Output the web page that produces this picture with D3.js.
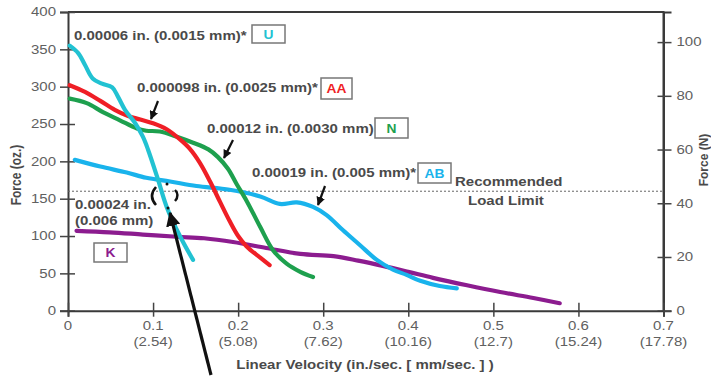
<!DOCTYPE html>
<html>
<head>
<meta charset="utf-8">
<script src="https://cdn.jsdelivr.net/npm/d3@7"></script>
<style>
  html, body { margin: 0; padding: 0; background: #fff; }
  svg { display: block; font-family: "Liberation Sans", Arial, Helvetica, sans-serif; }
</style>
</head>
<body>
<svg id="chart" width="711" height="376"></svg>
<script>
// Force vs. linear velocity for each motor variant: [velocity in/sec, force oz]
const seriesU = [[0.002,355],[0.012,345],[0.02,329],[0.029,311],[0.04,304],[0.052,299],[0.059,286],[0.067,269],[0.079,251],[0.088,233],[0.094,216],[0.106,175],[0.116,139],[0.132,99],[0.147,68]];
const seriesAA = [[0.002,302],[0.02,293],[0.038,281],[0.055,269],[0.07,261],[0.085,256],[0.1,251],[0.116,243],[0.132,229],[0.143,217],[0.155,198],[0.167,173],[0.179,145],[0.19,120],[0.2,100],[0.21,86],[0.226,71],[0.237,61]];
const seriesN = [[0.002,284],[0.022,278],[0.041,266],[0.061,255],[0.081,244],[0.092,241],[0.108,240],[0.128,233],[0.147,225],[0.165,216],[0.176,206],[0.188,190],[0.198,170],[0.21,147],[0.226,112],[0.241,81],[0.257,63],[0.273,52],[0.288,45]];
const seriesAB = [[0.008,202],[0.038,193],[0.069,185],[0.092,178],[0.12,173],[0.151,167],[0.19,162],[0.226,153],[0.249,143],[0.269,145],[0.288,139],[0.304,128],[0.323,108],[0.343,88],[0.363,68],[0.382,55],[0.398,48],[0.414,40],[0.437,33],[0.457,30]];
const seriesK = [[0.01,107],[0.049,105],[0.088,102],[0.128,99],[0.16,97],[0.194,92],[0.233,84],[0.273,76],[0.312,73],[0.341,67],[0.37,60],[0.4,52],[0.429,44],[0.469,34],[0.508,25],[0.547,17],[0.578,10]];

// Axis ticks and labels
const velocityTicks = [0, 0.1, 0.2, 0.3, 0.4, 0.5, 0.6, 0.7];
const velocityLabels = ["0", "0.1", "0.2", "0.3", "0.4", "0.5", "0.6", "0.7"];
const mmLabels = ["", "(2.54)", "(5.08)", "(7.62)", "(10.16)", "(12.7)", "(15.24)", "(17.78)"];
const ozTicks = [0, 50, 100, 150, 200, 250, 300, 350, 400];
const newtonTicks = [0, 20, 40, 60, 80, 100];
const loadLimitOz = 160;
const OZ_TO_N = 0.2780139;

const svg = d3.select("#chart");
const SX = 1.25; // horizontal glyph stretch used by all labels

const x = d3.scaleLinear().domain([0, 0.7]).range([68, 663.5]);
const yL = d3.scaleLinear().domain([0, 400]).range([310.7, 12]);
const yR = d3.scaleLinear().domain([0, 400 * OZ_TO_N]).range([310.7, 12]);

function label(parent, px, py, str, o = {}) {
  const t = parent.append("text")
    .attr("transform", `translate(${px},${py}) scale(${o.sx || SX},1)` + (o.rotate ? ` rotate(${o.rotate})` : ""))
    .attr("text-anchor", o.anchor || "start")
    .attr("font-size", o.size || 12)
    .attr("font-weight", o.weight || "bold")
    .attr("fill", o.fill || "#4a4a4a")
    .text(str);
  return t;
}

// Frame: top and right edges
svg.append("path")
  .attr("d", `M${x(0)},${yL(400)} H${x(0.7)} V${yL(0)}`)
  .attr("fill", "none").attr("stroke", "#3a3a3a").attr("stroke-width", 2);

// Left axis (oz)
const gL = svg.append("g").attr("transform", `translate(${x(0)},0)`)
  .call(d3.axisLeft(yL).tickValues(ozTicks).tickSize(8).tickFormat(""));
gL.select(".domain").attr("stroke", "#3a3a3a").attr("stroke-width", 2);
gL.selectAll(".tick line").attr("x1", 7).attr("stroke", "#444").attr("stroke-width", 1.5);
ozTicks.forEach(v => label(svg, x(0) - 12, yL(v) + 4.3, String(v), { anchor: "end", weight: "normal", fill: "#606060" }));

// Right axis (N)
const gR = svg.append("g").attr("transform", `translate(${x(0.7)},0)`)
  .call(d3.axisRight(yR).tickValues(newtonTicks).tickSize(8).tickFormat(""));
gR.select(".domain").attr("stroke", "#3a3a3a").attr("stroke-width", 2);
gR.selectAll(".tick line").attr("x1", -6).attr("stroke", "#444").attr("stroke-width", 1.5);
newtonTicks.forEach(v => label(svg, x(0.7) + 13, yR(v) + 4.3, String(v), { weight: "normal", fill: "#606060" }));

// Bottom axis (velocity)
const gB = svg.append("g").attr("transform", `translate(0,${yL(0)})`)
  .call(d3.axisBottom(x).tickValues(velocityTicks).tickSize(6).tickFormat(""));
gB.select(".domain").attr("stroke", "#3a3a3a").attr("stroke-width", 2);
gB.selectAll(".tick line").attr("y1", -8).attr("stroke", "#444").attr("stroke-width", 1.5);
velocityTicks.forEach((v, i) => {
  label(svg, x(v), 329.5, velocityLabels[i], { anchor: "middle", weight: "normal", fill: "#606060" });
  if (mmLabels[i]) label(svg, x(v), 346, mmLabels[i], { anchor: "middle", weight: "normal", fill: "#606060" });
});

// Axis titles
label(svg, 365, 369, "Linear Velocity (in./sec. [ mm/sec. ] )", { anchor: "middle" });
label(svg, 21, 175, "Force (oz.)", { anchor: "middle", rotate: -90 });
label(svg, 708, 160, "Force (N)", { anchor: "middle", rotate: -90, sx: 1.1 });

// Recommended load limit
svg.append("line")
  .attr("x1", x(0)).attr("x2", x(0.7))
  .attr("y1", yL(loadLimitOz)).attr("y2", yL(loadLimitOz))
  .attr("stroke", "#666").attr("stroke-width", 1).attr("stroke-dasharray", "2,2");
label(svg, 455, 186, "Recommended");
label(svg, 468, 205, "Load Limit");

// Curves
const line = d3.line().x(d => x(d[0])).y(d => yL(d[1])).curve(d3.curveCatmullRom.alpha(0.5));
const curves = [
  { data: seriesK, color: "#8c1c8f" },
  { data: seriesAB, color: "#19b3ec" },
  { data: seriesN, color: "#1ea04e" },
  { data: seriesAA, color: "#ef1f26" },
  { data: seriesU, color: "#22c2d2" }
];
svg.append("g").selectAll("path").data(curves).join("path")
  .attr("d", d => line(d.data))
  .attr("fill", "none")
  .attr("stroke", d => d.color)
  .attr("stroke-width", 4.2)
  .attr("stroke-linecap", "round")
  .attr("stroke-linejoin", "round");

// Arrowhead marker
const defs = svg.append("defs");
defs.append("marker").attr("id", "head").attr("viewBox", "0 0 10 10")
  .attr("refX", 9).attr("refY", 5).attr("markerWidth", 4).attr("markerHeight", 4)
  .attr("orient", "auto").attr("markerUnits", "strokeWidth")
  .append("path").attr("d", "M0,0 L10,5 L0,10 z").attr("fill", "#111");
defs.append("marker").attr("id", "headBig").attr("viewBox", "0 0 10 10")
  .attr("refX", 9).attr("refY", 5).attr("markerWidth", 4.5).attr("markerHeight", 4.5)
  .attr("orient", "auto").attr("markerUnits", "strokeWidth")
  .append("path").attr("d", "M0,0 L10,5 L0,10 z").attr("fill", "#111");

// Pointer arrows from labels to curves
[[158, 101, 151, 119], [233, 140, 224, 158], [325, 186, 318, 205]].forEach(a => {
  svg.append("line").attr("x1", a[0]).attr("y1", a[1]).attr("x2", a[2]).attr("y2", a[3])
    .attr("stroke", "#111").attr("stroke-width", 2.2).attr("marker-end", "url(#head)");
});
svg.append("line").attr("x1", 211).attr("y1", 375).attr("x2", 170).attr("y2", 213)
  .attr("stroke", "#111").attr("stroke-width", 3.2).attr("marker-end", "url(#headBig)");

// Bracket marks around the 0.00024 in. step point
svg.append("path").attr("d", "M156,187 Q148,196 156,205").attr("fill", "none").attr("stroke", "#111").attr("stroke-width", 2.6);
svg.append("path").attr("d", "M175,190 Q180,195 175,201").attr("fill", "none").attr("stroke", "#111").attr("stroke-width", 2.4);
svg.append("circle").attr("cx", 167).attr("cy", 184).attr("r", 1.5).attr("fill", "#111");
svg.append("circle").attr("cx", 168).attr("cy", 208).attr("r", 1.5).attr("fill", "#111");

// Step-size annotations with boxed variant codes
function tag(x0, y0, w, h, code, color) {
  svg.append("rect").attr("x", x0).attr("y", y0).attr("width", w).attr("height", h)
    .attr("fill", "#fff").attr("stroke", "#777").attr("stroke-width", 1.5);
  label(svg, x0 + w / 2, y0 + h / 2 + 4.5, code, { anchor: "middle", fill: color, sx: 1.15 });
}
label(svg, 74, 40, "0.00006 in. (0.0015 mm)*");
tag(252, 25, 33, 18, "U", "#22c2d2");
label(svg, 137, 91.5, "0.000098 in. (0.0025 mm)*");
tag(321, 78, 31, 21, "AA", "#ef1f26");
label(svg, 207, 132.5, "0.00012 in. (0.0030 mm)");
tag(375, 118, 33, 20, "N", "#1ea04e");
label(svg, 252, 176.5, "0.00019 in. (0.005 mm)*");
tag(418, 163, 33, 20, "AB", "#19b3ec");
label(svg, 75, 208.5, "0.00024 in.");
label(svg, 75, 224.5, "(0.006 mm)");
tag(94, 243, 33, 19, "K", "#8c1c8f");
</script>
</body>
</html>
